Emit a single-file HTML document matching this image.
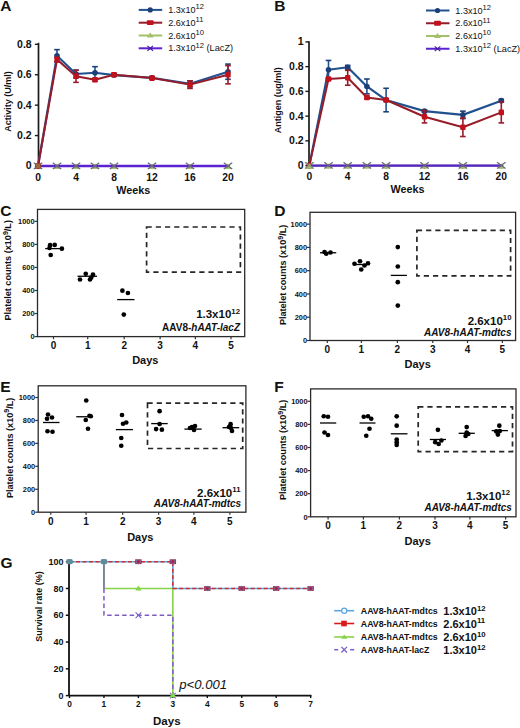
<!DOCTYPE html>
<html><head><meta charset="utf-8"><style>
html,body{margin:0;padding:0;background:#fff;}
svg{display:block;font-family:"Liberation Sans", sans-serif;}
</style></head><body>
<svg width="520" height="728" viewBox="0 0 520 728">
<rect width="520" height="728" fill="#fff"/>
<line x1="38.50" y1="42.80" x2="38.50" y2="166.80" stroke="#1a1a1a" stroke-width="1.7" />
<line x1="34.90" y1="166.00" x2="38.50" y2="166.00" stroke="#1a1a1a" stroke-width="1.4" />
<text x="31.70" y="169.40" font-size="10.5" text-anchor="end" font-weight="bold" font-style="normal" fill="#111" >0</text>
<line x1="34.90" y1="135.58" x2="38.50" y2="135.58" stroke="#1a1a1a" stroke-width="1.4" />
<text x="31.70" y="138.98" font-size="10.5" text-anchor="end" font-weight="bold" font-style="normal" fill="#111" >0.2</text>
<line x1="34.90" y1="105.16" x2="38.50" y2="105.16" stroke="#1a1a1a" stroke-width="1.4" />
<text x="31.70" y="108.56" font-size="10.5" text-anchor="end" font-weight="bold" font-style="normal" fill="#111" >0.4</text>
<line x1="34.90" y1="74.74" x2="38.50" y2="74.74" stroke="#1a1a1a" stroke-width="1.4" />
<text x="31.70" y="78.14" font-size="10.5" text-anchor="end" font-weight="bold" font-style="normal" fill="#111" >0.6</text>
<line x1="34.90" y1="44.32" x2="38.50" y2="44.32" stroke="#1a1a1a" stroke-width="1.4" />
<text x="31.70" y="47.72" font-size="10.5" text-anchor="end" font-weight="bold" font-style="normal" fill="#111" >0.8</text>
<line x1="38.50" y1="166.00" x2="230.00" y2="166.00" stroke="#1a1a1a" stroke-width="1.4" />
<line x1="38.00" y1="166.00" x2="38.00" y2="169.00" stroke="#1a1a1a" stroke-width="1.4" />
<text x="38.00" y="180.70" font-size="10.3" text-anchor="middle" font-weight="bold" font-style="normal" fill="#111" >0</text>
<line x1="76.00" y1="166.00" x2="76.00" y2="169.00" stroke="#1a1a1a" stroke-width="1.4" />
<text x="76.00" y="180.70" font-size="10.3" text-anchor="middle" font-weight="bold" font-style="normal" fill="#111" >4</text>
<line x1="114.00" y1="166.00" x2="114.00" y2="169.00" stroke="#1a1a1a" stroke-width="1.4" />
<text x="114.00" y="180.70" font-size="10.3" text-anchor="middle" font-weight="bold" font-style="normal" fill="#111" >8</text>
<line x1="152.00" y1="166.00" x2="152.00" y2="169.00" stroke="#1a1a1a" stroke-width="1.4" />
<text x="152.00" y="180.70" font-size="10.3" text-anchor="middle" font-weight="bold" font-style="normal" fill="#111" >12</text>
<line x1="190.00" y1="166.00" x2="190.00" y2="169.00" stroke="#1a1a1a" stroke-width="1.4" />
<text x="190.00" y="180.70" font-size="10.3" text-anchor="middle" font-weight="bold" font-style="normal" fill="#111" >16</text>
<line x1="228.00" y1="166.00" x2="228.00" y2="169.00" stroke="#1a1a1a" stroke-width="1.4" />
<text x="228.00" y="180.70" font-size="10.3" text-anchor="middle" font-weight="bold" font-style="normal" fill="#111" >20</text>
<text x="133.30" y="193.80" font-size="10.8" text-anchor="middle" font-weight="bold" font-style="normal" fill="#111" >Weeks</text>
<text transform="translate(10.80,101.50) rotate(-90)" font-size="9" font-weight="bold" text-anchor="middle" fill="#111">Activity (U/ml)</text>
<text x="0.20" y="11.30" font-size="15.5" text-anchor="start" font-weight="bold" font-style="normal" fill="#111" >A</text>
<polyline points="38.00,166.00 57.00,166.00 76.00,166.00 95.00,166.00 114.00,166.00 152.00,166.00 190.00,166.00 228.00,166.00" fill="none" stroke="#a4c06a" stroke-width="2.0" stroke-linejoin="round" />
<polygon points="38.00,163.60 41.20,169.04 34.80,169.04" fill="#a4c06a"/>
<polygon points="57.00,163.60 60.20,169.04 53.80,169.04" fill="#a4c06a"/>
<polygon points="76.00,163.60 79.20,169.04 72.80,169.04" fill="#a4c06a"/>
<polygon points="95.00,163.60 98.20,169.04 91.80,169.04" fill="#a4c06a"/>
<polygon points="114.00,163.60 117.20,169.04 110.80,169.04" fill="#a4c06a"/>
<polygon points="152.00,163.60 155.20,169.04 148.80,169.04" fill="#a4c06a"/>
<polygon points="190.00,163.60 193.20,169.04 186.80,169.04" fill="#a4c06a"/>
<polygon points="228.00,163.60 231.20,169.04 224.80,169.04" fill="#a4c06a"/>
<polyline points="38.00,166.00 57.00,166.00 76.00,166.00 95.00,166.00 114.00,166.00 152.00,166.00 190.00,166.00 228.00,166.00" fill="none" stroke="#5a22d0" stroke-width="2.4" stroke-linejoin="round" />
<line x1="33.80" y1="162.70" x2="42.20" y2="168.90" stroke="#6b6b78" stroke-width="1.3" />
<line x1="33.80" y1="168.90" x2="42.20" y2="162.70" stroke="#6b6b78" stroke-width="1.3" />
<line x1="52.80" y1="162.70" x2="61.20" y2="168.90" stroke="#6b6b78" stroke-width="1.3" />
<line x1="52.80" y1="168.90" x2="61.20" y2="162.70" stroke="#6b6b78" stroke-width="1.3" />
<line x1="71.80" y1="162.70" x2="80.20" y2="168.90" stroke="#6b6b78" stroke-width="1.3" />
<line x1="71.80" y1="168.90" x2="80.20" y2="162.70" stroke="#6b6b78" stroke-width="1.3" />
<line x1="90.80" y1="162.70" x2="99.20" y2="168.90" stroke="#6b6b78" stroke-width="1.3" />
<line x1="90.80" y1="168.90" x2="99.20" y2="162.70" stroke="#6b6b78" stroke-width="1.3" />
<line x1="109.80" y1="162.70" x2="118.20" y2="168.90" stroke="#6b6b78" stroke-width="1.3" />
<line x1="109.80" y1="168.90" x2="118.20" y2="162.70" stroke="#6b6b78" stroke-width="1.3" />
<line x1="147.80" y1="162.70" x2="156.20" y2="168.90" stroke="#6b6b78" stroke-width="1.3" />
<line x1="147.80" y1="168.90" x2="156.20" y2="162.70" stroke="#6b6b78" stroke-width="1.3" />
<line x1="185.80" y1="162.70" x2="194.20" y2="168.90" stroke="#6b6b78" stroke-width="1.3" />
<line x1="185.80" y1="168.90" x2="194.20" y2="162.70" stroke="#6b6b78" stroke-width="1.3" />
<line x1="223.80" y1="162.70" x2="232.20" y2="168.90" stroke="#6b6b78" stroke-width="1.3" />
<line x1="223.80" y1="168.90" x2="232.20" y2="162.70" stroke="#6b6b78" stroke-width="1.3" />
<line x1="57.00" y1="61.81" x2="57.00" y2="49.64" stroke="#22518f" stroke-width="1.6" />
<line x1="54.20" y1="49.64" x2="59.80" y2="49.64" stroke="#1d3f78" stroke-width="1.6" />
<line x1="54.20" y1="61.81" x2="59.80" y2="61.81" stroke="#1d3f78" stroke-width="1.6" />
<line x1="76.00" y1="77.78" x2="76.00" y2="70.18" stroke="#22518f" stroke-width="1.6" />
<line x1="73.20" y1="70.18" x2="78.80" y2="70.18" stroke="#1d3f78" stroke-width="1.6" />
<line x1="73.20" y1="77.78" x2="78.80" y2="77.78" stroke="#1d3f78" stroke-width="1.6" />
<line x1="95.00" y1="78.85" x2="95.00" y2="66.68" stroke="#22518f" stroke-width="1.6" />
<line x1="92.20" y1="66.68" x2="97.80" y2="66.68" stroke="#1d3f78" stroke-width="1.6" />
<line x1="92.20" y1="78.85" x2="97.80" y2="78.85" stroke="#1d3f78" stroke-width="1.6" />
<line x1="114.00" y1="76.26" x2="114.00" y2="73.83" stroke="#22518f" stroke-width="1.6" />
<line x1="111.20" y1="73.83" x2="116.80" y2="73.83" stroke="#1d3f78" stroke-width="1.6" />
<line x1="111.20" y1="76.26" x2="116.80" y2="76.26" stroke="#1d3f78" stroke-width="1.6" />
<line x1="152.00" y1="79.00" x2="152.00" y2="76.57" stroke="#22518f" stroke-width="1.6" />
<line x1="149.20" y1="76.57" x2="154.80" y2="76.57" stroke="#1d3f78" stroke-width="1.6" />
<line x1="149.20" y1="79.00" x2="154.80" y2="79.00" stroke="#1d3f78" stroke-width="1.6" />
<line x1="190.00" y1="86.91" x2="190.00" y2="80.82" stroke="#22518f" stroke-width="1.6" />
<line x1="187.20" y1="80.82" x2="192.80" y2="80.82" stroke="#1d3f78" stroke-width="1.6" />
<line x1="187.20" y1="86.91" x2="192.80" y2="86.91" stroke="#1d3f78" stroke-width="1.6" />
<line x1="228.00" y1="79.30" x2="228.00" y2="64.09" stroke="#22518f" stroke-width="1.6" />
<line x1="225.20" y1="64.09" x2="230.80" y2="64.09" stroke="#1d3f78" stroke-width="1.6" />
<line x1="225.20" y1="79.30" x2="230.80" y2="79.30" stroke="#1d3f78" stroke-width="1.6" />
<polyline points="38.00,166.00 57.00,55.73 76.00,73.98 95.00,72.76 114.00,75.04 152.00,77.78 190.00,83.87 228.00,71.70" fill="none" stroke="#22518f" stroke-width="2.2" stroke-linejoin="round" />
<circle cx="38.00" cy="166.00" r="2.8" fill="#1d3f78" stroke="none" stroke-width="0"/>
<circle cx="57.00" cy="55.73" r="2.8" fill="#1d3f78" stroke="none" stroke-width="0"/>
<circle cx="76.00" cy="73.98" r="2.8" fill="#1d3f78" stroke="none" stroke-width="0"/>
<circle cx="95.00" cy="72.76" r="2.8" fill="#1d3f78" stroke="none" stroke-width="0"/>
<circle cx="114.00" cy="75.04" r="2.8" fill="#1d3f78" stroke="none" stroke-width="0"/>
<circle cx="152.00" cy="77.78" r="2.8" fill="#1d3f78" stroke="none" stroke-width="0"/>
<circle cx="190.00" cy="83.87" r="2.8" fill="#1d3f78" stroke="none" stroke-width="0"/>
<circle cx="228.00" cy="71.70" r="2.8" fill="#1d3f78" stroke="none" stroke-width="0"/>
<line x1="57.00" y1="61.81" x2="57.00" y2="57.25" stroke="#961c2a" stroke-width="1.6" />
<line x1="54.20" y1="57.25" x2="59.80" y2="57.25" stroke="#961c2a" stroke-width="1.6" />
<line x1="54.20" y1="61.81" x2="59.80" y2="61.81" stroke="#961c2a" stroke-width="1.6" />
<line x1="76.00" y1="82.35" x2="76.00" y2="70.18" stroke="#961c2a" stroke-width="1.6" />
<line x1="73.20" y1="70.18" x2="78.80" y2="70.18" stroke="#961c2a" stroke-width="1.6" />
<line x1="73.20" y1="82.35" x2="78.80" y2="82.35" stroke="#961c2a" stroke-width="1.6" />
<line x1="95.00" y1="81.28" x2="95.00" y2="78.24" stroke="#961c2a" stroke-width="1.6" />
<line x1="92.20" y1="78.24" x2="97.80" y2="78.24" stroke="#961c2a" stroke-width="1.6" />
<line x1="92.20" y1="81.28" x2="97.80" y2="81.28" stroke="#961c2a" stroke-width="1.6" />
<line x1="114.00" y1="76.26" x2="114.00" y2="73.22" stroke="#961c2a" stroke-width="1.6" />
<line x1="111.20" y1="73.22" x2="116.80" y2="73.22" stroke="#961c2a" stroke-width="1.6" />
<line x1="111.20" y1="76.26" x2="116.80" y2="76.26" stroke="#961c2a" stroke-width="1.6" />
<line x1="152.00" y1="79.30" x2="152.00" y2="76.87" stroke="#961c2a" stroke-width="1.6" />
<line x1="149.20" y1="76.87" x2="154.80" y2="76.87" stroke="#961c2a" stroke-width="1.6" />
<line x1="149.20" y1="79.30" x2="154.80" y2="79.30" stroke="#961c2a" stroke-width="1.6" />
<line x1="190.00" y1="88.43" x2="190.00" y2="80.82" stroke="#961c2a" stroke-width="1.6" />
<line x1="187.20" y1="80.82" x2="192.80" y2="80.82" stroke="#961c2a" stroke-width="1.6" />
<line x1="187.20" y1="88.43" x2="192.80" y2="88.43" stroke="#961c2a" stroke-width="1.6" />
<line x1="228.00" y1="83.87" x2="228.00" y2="65.61" stroke="#961c2a" stroke-width="1.6" />
<line x1="225.20" y1="65.61" x2="230.80" y2="65.61" stroke="#961c2a" stroke-width="1.6" />
<line x1="225.20" y1="83.87" x2="230.80" y2="83.87" stroke="#961c2a" stroke-width="1.6" />
<polyline points="38.00,166.00 57.00,59.53 76.00,76.26 95.00,79.76 114.00,74.74 152.00,78.09 190.00,84.63 228.00,74.74" fill="none" stroke="#961c2a" stroke-width="2.0" stroke-linejoin="round" />
<rect x="35.30" y="163.20" width="5.40" height="5.60" fill="#c0121c" stroke="none" stroke-width="0" rx="1"/>
<rect x="54.30" y="56.73" width="5.40" height="5.60" fill="#c0121c" stroke="none" stroke-width="0" rx="1"/>
<rect x="73.30" y="73.46" width="5.40" height="5.60" fill="#c0121c" stroke="none" stroke-width="0" rx="1"/>
<rect x="92.30" y="76.96" width="5.40" height="5.60" fill="#c0121c" stroke="none" stroke-width="0" rx="1"/>
<rect x="111.30" y="71.94" width="5.40" height="5.60" fill="#c0121c" stroke="none" stroke-width="0" rx="1"/>
<rect x="149.30" y="75.29" width="5.40" height="5.60" fill="#c0121c" stroke="none" stroke-width="0" rx="1"/>
<rect x="187.30" y="81.83" width="5.40" height="5.60" fill="#c0121c" stroke="none" stroke-width="0" rx="1"/>
<rect x="225.30" y="71.94" width="5.40" height="5.60" fill="#c0121c" stroke="none" stroke-width="0" rx="1"/>
<rect x="35.50" y="163.50" width="5.00" height="5.00" fill="#9a6a40" stroke="none" stroke-width="0" />
<line x1="138.70" y1="9.90" x2="162.20" y2="9.90" stroke="#22518f" stroke-width="2" />
<circle cx="150.20" cy="9.90" r="2.6" fill="#1d3f78" stroke="none" stroke-width="0"/>
<text x="168.20" y="12.90" font-size="9.1" fill="#111">1.3x10<tspan font-size="7.6" dy="-3.7">12</tspan><tspan font-size="9.2" dy="3.7"></tspan></text>
<line x1="138.70" y1="22.70" x2="162.20" y2="22.70" stroke="#961c2a" stroke-width="2" />
<rect x="146.80" y="20.30" width="6.80" height="4.80" fill="#c0121c" stroke="none" stroke-width="0" rx="1"/>
<text x="168.20" y="25.70" font-size="9.1" fill="#111">2.6x10<tspan font-size="7.6" dy="-3.7">11</tspan><tspan font-size="9.2" dy="3.7"></tspan></text>
<line x1="138.70" y1="35.50" x2="162.20" y2="35.50" stroke="#a4c06a" stroke-width="2" />
<polygon points="150.20,32.50 153.60,37.60 146.80,37.60" fill="#a4c06a"/>
<text x="168.20" y="38.50" font-size="9.1" fill="#111">2.6x10<tspan font-size="7.6" dy="-3.7">10</tspan><tspan font-size="9.2" dy="3.7"></tspan></text>
<line x1="138.70" y1="48.30" x2="162.20" y2="48.30" stroke="#5a22d0" stroke-width="2" />
<line x1="147.40" y1="45.90" x2="153.00" y2="50.70" stroke="#4a1aa0" stroke-width="1.2" />
<line x1="147.40" y1="50.70" x2="153.00" y2="45.90" stroke="#4a1aa0" stroke-width="1.2" />
<text x="168.20" y="51.30" font-size="9.1" fill="#111">1.3x10<tspan font-size="7.6" dy="-3.7">12</tspan><tspan font-size="9.2" dy="3.7"> (LacZ)</tspan></text>
<line x1="309.00" y1="41.30" x2="309.00" y2="166.40" stroke="#1a1a1a" stroke-width="1.7" />
<line x1="305.40" y1="165.60" x2="309.00" y2="165.60" stroke="#1a1a1a" stroke-width="1.4" />
<text x="303.70" y="169.00" font-size="10.5" text-anchor="end" font-weight="bold" font-style="normal" fill="#111" >0</text>
<line x1="305.40" y1="140.86" x2="309.00" y2="140.86" stroke="#1a1a1a" stroke-width="1.4" />
<text x="303.70" y="144.26" font-size="10.5" text-anchor="end" font-weight="bold" font-style="normal" fill="#111" >0.2</text>
<line x1="305.40" y1="116.12" x2="309.00" y2="116.12" stroke="#1a1a1a" stroke-width="1.4" />
<text x="303.70" y="119.52" font-size="10.5" text-anchor="end" font-weight="bold" font-style="normal" fill="#111" >0.4</text>
<line x1="305.40" y1="91.38" x2="309.00" y2="91.38" stroke="#1a1a1a" stroke-width="1.4" />
<text x="303.70" y="94.78" font-size="10.5" text-anchor="end" font-weight="bold" font-style="normal" fill="#111" >0.6</text>
<line x1="305.40" y1="66.64" x2="309.00" y2="66.64" stroke="#1a1a1a" stroke-width="1.4" />
<text x="303.70" y="70.04" font-size="10.5" text-anchor="end" font-weight="bold" font-style="normal" fill="#111" >0.8</text>
<line x1="305.40" y1="41.90" x2="309.00" y2="41.90" stroke="#1a1a1a" stroke-width="1.4" />
<text x="303.70" y="45.30" font-size="10.5" text-anchor="end" font-weight="bold" font-style="normal" fill="#111" >1</text>
<line x1="309.00" y1="165.60" x2="503.30" y2="165.60" stroke="#1a1a1a" stroke-width="1.4" />
<line x1="309.30" y1="165.60" x2="309.30" y2="168.60" stroke="#1a1a1a" stroke-width="1.4" />
<text x="309.30" y="180.30" font-size="10.3" text-anchor="middle" font-weight="bold" font-style="normal" fill="#111" >0</text>
<line x1="347.70" y1="165.60" x2="347.70" y2="168.60" stroke="#1a1a1a" stroke-width="1.4" />
<text x="347.70" y="180.30" font-size="10.3" text-anchor="middle" font-weight="bold" font-style="normal" fill="#111" >4</text>
<line x1="386.10" y1="165.60" x2="386.10" y2="168.60" stroke="#1a1a1a" stroke-width="1.4" />
<text x="386.10" y="180.30" font-size="10.3" text-anchor="middle" font-weight="bold" font-style="normal" fill="#111" >8</text>
<line x1="424.50" y1="165.60" x2="424.50" y2="168.60" stroke="#1a1a1a" stroke-width="1.4" />
<text x="424.50" y="180.30" font-size="10.3" text-anchor="middle" font-weight="bold" font-style="normal" fill="#111" >12</text>
<line x1="462.90" y1="165.60" x2="462.90" y2="168.60" stroke="#1a1a1a" stroke-width="1.4" />
<text x="462.90" y="180.30" font-size="10.3" text-anchor="middle" font-weight="bold" font-style="normal" fill="#111" >16</text>
<line x1="501.30" y1="165.60" x2="501.30" y2="168.60" stroke="#1a1a1a" stroke-width="1.4" />
<text x="501.30" y="180.30" font-size="10.3" text-anchor="middle" font-weight="bold" font-style="normal" fill="#111" >20</text>
<text x="407.50" y="192.50" font-size="10.8" text-anchor="middle" font-weight="bold" font-style="normal" fill="#111" >Weeks</text>
<text transform="translate(281.00,100.30) rotate(-90)" font-size="9" font-weight="bold" text-anchor="middle" fill="#111">Antigen (ug/ml)</text>
<text x="274.30" y="11.30" font-size="15.5" text-anchor="start" font-weight="bold" font-style="normal" fill="#111" >B</text>
<polyline points="309.30,165.60 328.50,165.60 347.70,165.60 366.90,165.60 386.10,165.60 424.50,165.60 462.90,165.60 501.30,165.60" fill="none" stroke="#a4c06a" stroke-width="2.0" stroke-linejoin="round" />
<polygon points="309.30,163.20 312.50,168.64 306.10,168.64" fill="#a4c06a"/>
<polygon points="328.50,163.20 331.70,168.64 325.30,168.64" fill="#a4c06a"/>
<polygon points="347.70,163.20 350.90,168.64 344.50,168.64" fill="#a4c06a"/>
<polygon points="366.90,163.20 370.10,168.64 363.70,168.64" fill="#a4c06a"/>
<polygon points="386.10,163.20 389.30,168.64 382.90,168.64" fill="#a4c06a"/>
<polygon points="424.50,163.20 427.70,168.64 421.30,168.64" fill="#a4c06a"/>
<polygon points="462.90,163.20 466.10,168.64 459.70,168.64" fill="#a4c06a"/>
<polygon points="501.30,163.20 504.50,168.64 498.10,168.64" fill="#a4c06a"/>
<polyline points="309.30,165.60 328.50,165.60 347.70,165.60 366.90,165.60 386.10,165.60 424.50,165.60 462.90,165.60 501.30,165.60" fill="none" stroke="#5a22d0" stroke-width="2.4" stroke-linejoin="round" />
<line x1="305.10" y1="162.30" x2="313.50" y2="168.50" stroke="#6b6b78" stroke-width="1.3" />
<line x1="305.10" y1="168.50" x2="313.50" y2="162.30" stroke="#6b6b78" stroke-width="1.3" />
<line x1="324.30" y1="162.30" x2="332.70" y2="168.50" stroke="#6b6b78" stroke-width="1.3" />
<line x1="324.30" y1="168.50" x2="332.70" y2="162.30" stroke="#6b6b78" stroke-width="1.3" />
<line x1="343.50" y1="162.30" x2="351.90" y2="168.50" stroke="#6b6b78" stroke-width="1.3" />
<line x1="343.50" y1="168.50" x2="351.90" y2="162.30" stroke="#6b6b78" stroke-width="1.3" />
<line x1="362.70" y1="162.30" x2="371.10" y2="168.50" stroke="#6b6b78" stroke-width="1.3" />
<line x1="362.70" y1="168.50" x2="371.10" y2="162.30" stroke="#6b6b78" stroke-width="1.3" />
<line x1="381.90" y1="162.30" x2="390.30" y2="168.50" stroke="#6b6b78" stroke-width="1.3" />
<line x1="381.90" y1="168.50" x2="390.30" y2="162.30" stroke="#6b6b78" stroke-width="1.3" />
<line x1="420.30" y1="162.30" x2="428.70" y2="168.50" stroke="#6b6b78" stroke-width="1.3" />
<line x1="420.30" y1="168.50" x2="428.70" y2="162.30" stroke="#6b6b78" stroke-width="1.3" />
<line x1="458.70" y1="162.30" x2="467.10" y2="168.50" stroke="#6b6b78" stroke-width="1.3" />
<line x1="458.70" y1="168.50" x2="467.10" y2="162.30" stroke="#6b6b78" stroke-width="1.3" />
<line x1="497.10" y1="162.30" x2="505.50" y2="168.50" stroke="#6b6b78" stroke-width="1.3" />
<line x1="497.10" y1="168.50" x2="505.50" y2="162.30" stroke="#6b6b78" stroke-width="1.3" />
<line x1="328.50" y1="79.01" x2="328.50" y2="60.45" stroke="#22518f" stroke-width="1.6" />
<line x1="325.70" y1="60.45" x2="331.30" y2="60.45" stroke="#1d3f78" stroke-width="1.6" />
<line x1="325.70" y1="79.01" x2="331.30" y2="79.01" stroke="#1d3f78" stroke-width="1.6" />
<line x1="347.70" y1="69.11" x2="347.70" y2="65.40" stroke="#22518f" stroke-width="1.6" />
<line x1="344.90" y1="65.40" x2="350.50" y2="65.40" stroke="#1d3f78" stroke-width="1.6" />
<line x1="344.90" y1="69.11" x2="350.50" y2="69.11" stroke="#1d3f78" stroke-width="1.6" />
<line x1="366.90" y1="93.85" x2="366.90" y2="79.01" stroke="#22518f" stroke-width="1.6" />
<line x1="364.10" y1="79.01" x2="369.70" y2="79.01" stroke="#1d3f78" stroke-width="1.6" />
<line x1="364.10" y1="93.85" x2="369.70" y2="93.85" stroke="#1d3f78" stroke-width="1.6" />
<line x1="386.10" y1="111.79" x2="386.10" y2="88.29" stroke="#22518f" stroke-width="1.6" />
<line x1="383.30" y1="88.29" x2="388.90" y2="88.29" stroke="#1d3f78" stroke-width="1.6" />
<line x1="383.30" y1="111.79" x2="388.90" y2="111.79" stroke="#1d3f78" stroke-width="1.6" />
<line x1="424.50" y1="112.41" x2="424.50" y2="109.94" stroke="#22518f" stroke-width="1.6" />
<line x1="421.70" y1="109.94" x2="427.30" y2="109.94" stroke="#1d3f78" stroke-width="1.6" />
<line x1="421.70" y1="112.41" x2="427.30" y2="112.41" stroke="#1d3f78" stroke-width="1.6" />
<line x1="462.90" y1="118.59" x2="462.90" y2="111.17" stroke="#22518f" stroke-width="1.6" />
<line x1="460.10" y1="111.17" x2="465.70" y2="111.17" stroke="#1d3f78" stroke-width="1.6" />
<line x1="460.10" y1="118.59" x2="465.70" y2="118.59" stroke="#1d3f78" stroke-width="1.6" />
<line x1="501.30" y1="101.89" x2="501.30" y2="99.42" stroke="#22518f" stroke-width="1.6" />
<line x1="498.50" y1="99.42" x2="504.10" y2="99.42" stroke="#1d3f78" stroke-width="1.6" />
<line x1="498.50" y1="101.89" x2="504.10" y2="101.89" stroke="#1d3f78" stroke-width="1.6" />
<polyline points="309.30,165.60 328.50,69.73 347.70,67.26 366.90,86.43 386.10,100.04 424.50,111.17 462.90,114.88 501.30,100.66" fill="none" stroke="#22518f" stroke-width="2.2" stroke-linejoin="round" />
<circle cx="309.30" cy="165.60" r="2.8" fill="#1d3f78" stroke="none" stroke-width="0"/>
<circle cx="328.50" cy="69.73" r="2.8" fill="#1d3f78" stroke="none" stroke-width="0"/>
<circle cx="347.70" cy="67.26" r="2.8" fill="#1d3f78" stroke="none" stroke-width="0"/>
<circle cx="366.90" cy="86.43" r="2.8" fill="#1d3f78" stroke="none" stroke-width="0"/>
<circle cx="386.10" cy="100.04" r="2.8" fill="#1d3f78" stroke="none" stroke-width="0"/>
<circle cx="424.50" cy="111.17" r="2.8" fill="#1d3f78" stroke="none" stroke-width="0"/>
<circle cx="462.90" cy="114.88" r="2.8" fill="#1d3f78" stroke="none" stroke-width="0"/>
<circle cx="501.30" cy="100.66" r="2.8" fill="#1d3f78" stroke="none" stroke-width="0"/>
<line x1="328.50" y1="80.25" x2="328.50" y2="77.77" stroke="#961c2a" stroke-width="1.6" />
<line x1="325.70" y1="77.77" x2="331.30" y2="77.77" stroke="#961c2a" stroke-width="1.6" />
<line x1="325.70" y1="80.25" x2="331.30" y2="80.25" stroke="#961c2a" stroke-width="1.6" />
<line x1="347.70" y1="85.20" x2="347.70" y2="70.35" stroke="#961c2a" stroke-width="1.6" />
<line x1="344.90" y1="70.35" x2="350.50" y2="70.35" stroke="#961c2a" stroke-width="1.6" />
<line x1="344.90" y1="85.20" x2="350.50" y2="85.20" stroke="#961c2a" stroke-width="1.6" />
<line x1="366.90" y1="98.80" x2="366.90" y2="96.33" stroke="#961c2a" stroke-width="1.6" />
<line x1="364.10" y1="96.33" x2="369.70" y2="96.33" stroke="#961c2a" stroke-width="1.6" />
<line x1="364.10" y1="98.80" x2="369.70" y2="98.80" stroke="#961c2a" stroke-width="1.6" />
<line x1="386.10" y1="101.28" x2="386.10" y2="98.80" stroke="#961c2a" stroke-width="1.6" />
<line x1="383.30" y1="98.80" x2="388.90" y2="98.80" stroke="#961c2a" stroke-width="1.6" />
<line x1="383.30" y1="101.28" x2="388.90" y2="101.28" stroke="#961c2a" stroke-width="1.6" />
<line x1="424.50" y1="122.92" x2="424.50" y2="110.55" stroke="#961c2a" stroke-width="1.6" />
<line x1="421.70" y1="110.55" x2="427.30" y2="110.55" stroke="#961c2a" stroke-width="1.6" />
<line x1="421.70" y1="122.92" x2="427.30" y2="122.92" stroke="#961c2a" stroke-width="1.6" />
<line x1="462.90" y1="136.53" x2="462.90" y2="117.98" stroke="#961c2a" stroke-width="1.6" />
<line x1="460.10" y1="117.98" x2="465.70" y2="117.98" stroke="#961c2a" stroke-width="1.6" />
<line x1="460.10" y1="136.53" x2="465.70" y2="136.53" stroke="#961c2a" stroke-width="1.6" />
<line x1="501.30" y1="122.92" x2="501.30" y2="101.89" stroke="#961c2a" stroke-width="1.6" />
<line x1="498.50" y1="101.89" x2="504.10" y2="101.89" stroke="#961c2a" stroke-width="1.6" />
<line x1="498.50" y1="122.92" x2="504.10" y2="122.92" stroke="#961c2a" stroke-width="1.6" />
<polyline points="309.30,165.60 328.50,79.01 347.70,77.77 366.90,97.56 386.10,100.04 424.50,116.74 462.90,127.25 501.30,112.41" fill="none" stroke="#961c2a" stroke-width="2.0" stroke-linejoin="round" />
<rect x="306.60" y="162.80" width="5.40" height="5.60" fill="#c0121c" stroke="none" stroke-width="0" rx="1"/>
<rect x="325.80" y="76.21" width="5.40" height="5.60" fill="#c0121c" stroke="none" stroke-width="0" rx="1"/>
<rect x="345.00" y="74.97" width="5.40" height="5.60" fill="#c0121c" stroke="none" stroke-width="0" rx="1"/>
<rect x="364.20" y="94.76" width="5.40" height="5.60" fill="#c0121c" stroke="none" stroke-width="0" rx="1"/>
<rect x="383.40" y="97.24" width="5.40" height="5.60" fill="#c0121c" stroke="none" stroke-width="0" rx="1"/>
<rect x="421.80" y="113.94" width="5.40" height="5.60" fill="#c0121c" stroke="none" stroke-width="0" rx="1"/>
<rect x="460.20" y="124.45" width="5.40" height="5.60" fill="#c0121c" stroke="none" stroke-width="0" rx="1"/>
<rect x="498.60" y="109.61" width="5.40" height="5.60" fill="#c0121c" stroke="none" stroke-width="0" rx="1"/>
<polygon points="309.30,163.20 312.50,168.64 306.10,168.64" fill="#a4c06a"/>
<line x1="305.10" y1="162.30" x2="313.50" y2="168.50" stroke="#8a9a70" stroke-width="1.3" />
<line x1="305.10" y1="168.50" x2="313.50" y2="162.30" stroke="#8a9a70" stroke-width="1.3" />
<line x1="426.00" y1="10.50" x2="449.50" y2="10.50" stroke="#22518f" stroke-width="2" />
<circle cx="437.50" cy="10.50" r="2.6" fill="#1d3f78" stroke="none" stroke-width="0"/>
<text x="455.30" y="13.50" font-size="9.1" fill="#111">1.3x10<tspan font-size="7.6" dy="-3.7">12</tspan><tspan font-size="9.2" dy="3.7"></tspan></text>
<line x1="426.00" y1="23.25" x2="449.50" y2="23.25" stroke="#961c2a" stroke-width="2" />
<rect x="434.10" y="20.85" width="6.80" height="4.80" fill="#c0121c" stroke="none" stroke-width="0" rx="1"/>
<text x="455.30" y="26.25" font-size="9.1" fill="#111">2.6x10<tspan font-size="7.6" dy="-3.7">11</tspan><tspan font-size="9.2" dy="3.7"></tspan></text>
<line x1="426.00" y1="36.00" x2="449.50" y2="36.00" stroke="#a4c06a" stroke-width="2" />
<polygon points="437.50,33.00 440.90,38.10 434.10,38.10" fill="#a4c06a"/>
<text x="455.30" y="39.00" font-size="9.1" fill="#111">2.6x10<tspan font-size="7.6" dy="-3.7">10</tspan><tspan font-size="9.2" dy="3.7"></tspan></text>
<line x1="426.00" y1="48.75" x2="449.50" y2="48.75" stroke="#5a22d0" stroke-width="2" />
<line x1="434.70" y1="46.35" x2="440.30" y2="51.15" stroke="#4a1aa0" stroke-width="1.2" />
<line x1="434.70" y1="51.15" x2="440.30" y2="46.35" stroke="#4a1aa0" stroke-width="1.2" />
<text x="455.30" y="51.75" font-size="9.1" fill="#111">1.3x10<tspan font-size="7.6" dy="-3.7">12</tspan><tspan font-size="9.2" dy="3.7"> (LacZ)</tspan></text>
<rect x="37.50" y="209.40" width="207.20" height="127.20" fill="none" stroke="#2a2a2a" stroke-width="1.3"/>
<line x1="34.50" y1="336.60" x2="37.50" y2="336.60" stroke="#333" stroke-width="1.2" />
<text x="34.50" y="339.30" font-size="7.4" text-anchor="end" font-weight="bold" font-style="normal" fill="#111" >0</text>
<line x1="34.50" y1="313.55" x2="37.50" y2="313.55" stroke="#333" stroke-width="1.2" />
<text x="34.50" y="316.25" font-size="7.4" text-anchor="end" font-weight="bold" font-style="normal" fill="#111" >200</text>
<line x1="34.50" y1="290.50" x2="37.50" y2="290.50" stroke="#333" stroke-width="1.2" />
<text x="34.50" y="293.20" font-size="7.4" text-anchor="end" font-weight="bold" font-style="normal" fill="#111" >400</text>
<line x1="34.50" y1="267.45" x2="37.50" y2="267.45" stroke="#333" stroke-width="1.2" />
<text x="34.50" y="270.15" font-size="7.4" text-anchor="end" font-weight="bold" font-style="normal" fill="#111" >600</text>
<line x1="34.50" y1="244.40" x2="37.50" y2="244.40" stroke="#333" stroke-width="1.2" />
<text x="34.50" y="247.10" font-size="7.4" text-anchor="end" font-weight="bold" font-style="normal" fill="#111" >800</text>
<line x1="34.50" y1="221.35" x2="37.50" y2="221.35" stroke="#333" stroke-width="1.2" />
<text x="34.50" y="224.05" font-size="7.4" text-anchor="end" font-weight="bold" font-style="normal" fill="#111" >1000</text>
<line x1="53.50" y1="336.60" x2="53.50" y2="339.20" stroke="#333" stroke-width="1.2" />
<text x="53.50" y="349.20" font-size="10" text-anchor="middle" font-weight="bold" font-style="normal" fill="#111" >0</text>
<line x1="87.70" y1="336.60" x2="87.70" y2="339.20" stroke="#333" stroke-width="1.2" />
<text x="87.70" y="349.20" font-size="10" text-anchor="middle" font-weight="bold" font-style="normal" fill="#111" >1</text>
<line x1="124.20" y1="336.60" x2="124.20" y2="339.20" stroke="#333" stroke-width="1.2" />
<text x="124.20" y="349.20" font-size="10" text-anchor="middle" font-weight="bold" font-style="normal" fill="#111" >2</text>
<line x1="160.10" y1="336.60" x2="160.10" y2="339.20" stroke="#333" stroke-width="1.2" />
<text x="160.10" y="349.20" font-size="10" text-anchor="middle" font-weight="bold" font-style="normal" fill="#111" >3</text>
<line x1="195.40" y1="336.60" x2="195.40" y2="339.20" stroke="#333" stroke-width="1.2" />
<text x="195.40" y="349.20" font-size="10" text-anchor="middle" font-weight="bold" font-style="normal" fill="#111" >4</text>
<line x1="231.00" y1="336.60" x2="231.00" y2="339.20" stroke="#333" stroke-width="1.2" />
<text x="231.00" y="349.20" font-size="10" text-anchor="middle" font-weight="bold" font-style="normal" fill="#111" >5</text>
<text x="145.30" y="363.50" font-size="11" text-anchor="middle" font-weight="bold" font-style="normal" fill="#111" >Days</text>
<rect x="146.60" y="227.00" width="93.80" height="45.10" fill="none" stroke="#262626" stroke-width="1.7" stroke-dasharray="5.2,4"/>
<text x="0.30" y="215.60" font-size="15.5" text-anchor="start" font-weight="bold" font-style="normal" fill="#111" >C</text>
<text transform="translate(11.20,270.30) rotate(-90)" font-size="9.1" font-weight="bold" text-anchor="middle" fill="#111">Platelet counts (x10<tspan font-size="7" dy="-3.3">9</tspan><tspan dy="3.3">/L)</tspan></text>
<text x="240.00" y="318.40" font-size="11.5" font-weight="bold" text-anchor="end" fill="#111">1.3x10<tspan font-size="7.8" dy="-4.6">12</tspan></text>
<text x="240.00" y="331.00" font-size="10" font-weight="bold" text-anchor="end" fill="#111">AAV8-<tspan font-style="italic">hAAT-lacZ</tspan></text>
<circle cx="50.10" cy="245.20" r="2.35" fill="#000" stroke="none" stroke-width="0"/>
<circle cx="54.70" cy="244.90" r="2.35" fill="#000" stroke="none" stroke-width="0"/>
<circle cx="49.50" cy="248.00" r="2.35" fill="#000" stroke="none" stroke-width="0"/>
<circle cx="61.90" cy="248.70" r="2.35" fill="#000" stroke="none" stroke-width="0"/>
<circle cx="50.70" cy="255.00" r="2.35" fill="#000" stroke="none" stroke-width="0"/>
<circle cx="80.00" cy="279.50" r="2.35" fill="#000" stroke="none" stroke-width="0"/>
<circle cx="85.75" cy="273.75" r="2.35" fill="#000" stroke="none" stroke-width="0"/>
<circle cx="90.00" cy="279.50" r="2.35" fill="#000" stroke="none" stroke-width="0"/>
<circle cx="93.00" cy="274.50" r="2.35" fill="#000" stroke="none" stroke-width="0"/>
<circle cx="91.25" cy="277.50" r="2.35" fill="#000" stroke="none" stroke-width="0"/>
<circle cx="122.40" cy="290.70" r="2.35" fill="#000" stroke="none" stroke-width="0"/>
<circle cx="127.90" cy="293.00" r="2.35" fill="#000" stroke="none" stroke-width="0"/>
<circle cx="123.80" cy="314.60" r="2.35" fill="#000" stroke="none" stroke-width="0"/>
<line x1="45.20" y1="248.60" x2="63.10" y2="248.60" stroke="#000" stroke-width="1.3" />
<line x1="77.50" y1="276.25" x2="97.00" y2="276.25" stroke="#000" stroke-width="1.3" />
<line x1="117.20" y1="299.60" x2="134.50" y2="299.60" stroke="#000" stroke-width="1.3" />
<rect x="310.00" y="212.30" width="205.60" height="128.20" fill="none" stroke="#2a2a2a" stroke-width="1.3"/>
<line x1="307.00" y1="340.50" x2="310.00" y2="340.50" stroke="#333" stroke-width="1.2" />
<text x="307.00" y="343.20" font-size="7.4" text-anchor="end" font-weight="bold" font-style="normal" fill="#111" >0</text>
<line x1="307.00" y1="317.23" x2="310.00" y2="317.23" stroke="#333" stroke-width="1.2" />
<text x="307.00" y="319.93" font-size="7.4" text-anchor="end" font-weight="bold" font-style="normal" fill="#111" >200</text>
<line x1="307.00" y1="293.96" x2="310.00" y2="293.96" stroke="#333" stroke-width="1.2" />
<text x="307.00" y="296.66" font-size="7.4" text-anchor="end" font-weight="bold" font-style="normal" fill="#111" >400</text>
<line x1="307.00" y1="270.69" x2="310.00" y2="270.69" stroke="#333" stroke-width="1.2" />
<text x="307.00" y="273.39" font-size="7.4" text-anchor="end" font-weight="bold" font-style="normal" fill="#111" >600</text>
<line x1="307.00" y1="247.42" x2="310.00" y2="247.42" stroke="#333" stroke-width="1.2" />
<text x="307.00" y="250.12" font-size="7.4" text-anchor="end" font-weight="bold" font-style="normal" fill="#111" >800</text>
<line x1="307.00" y1="224.15" x2="310.00" y2="224.15" stroke="#333" stroke-width="1.2" />
<text x="307.00" y="226.85" font-size="7.4" text-anchor="end" font-weight="bold" font-style="normal" fill="#111" >1000</text>
<line x1="327.30" y1="340.50" x2="327.30" y2="343.10" stroke="#333" stroke-width="1.2" />
<text x="327.30" y="353.10" font-size="10" text-anchor="middle" font-weight="bold" font-style="normal" fill="#111" >0</text>
<line x1="361.40" y1="340.50" x2="361.40" y2="343.10" stroke="#333" stroke-width="1.2" />
<text x="361.40" y="353.10" font-size="10" text-anchor="middle" font-weight="bold" font-style="normal" fill="#111" >1</text>
<line x1="397.40" y1="340.50" x2="397.40" y2="343.10" stroke="#333" stroke-width="1.2" />
<text x="397.40" y="353.10" font-size="10" text-anchor="middle" font-weight="bold" font-style="normal" fill="#111" >2</text>
<line x1="432.80" y1="340.50" x2="432.80" y2="343.10" stroke="#333" stroke-width="1.2" />
<text x="432.80" y="353.10" font-size="10" text-anchor="middle" font-weight="bold" font-style="normal" fill="#111" >3</text>
<line x1="467.50" y1="340.50" x2="467.50" y2="343.10" stroke="#333" stroke-width="1.2" />
<text x="467.50" y="353.10" font-size="10" text-anchor="middle" font-weight="bold" font-style="normal" fill="#111" >4</text>
<line x1="502.40" y1="340.50" x2="502.40" y2="343.10" stroke="#333" stroke-width="1.2" />
<text x="502.40" y="353.10" font-size="10" text-anchor="middle" font-weight="bold" font-style="normal" fill="#111" >5</text>
<text x="417.70" y="367.50" font-size="11" text-anchor="middle" font-weight="bold" font-style="normal" fill="#111" >Days</text>
<rect x="416.90" y="230.40" width="93.70" height="45.50" fill="none" stroke="#262626" stroke-width="1.7" stroke-dasharray="5.2,4"/>
<text x="274.20" y="215.50" font-size="15.5" text-anchor="start" font-weight="bold" font-style="normal" fill="#111" >D</text>
<text transform="translate(286.00,274.90) rotate(-90)" font-size="9.1" font-weight="bold" text-anchor="middle" fill="#111">Platelet counts (x10<tspan font-size="7" dy="-3.3">9</tspan><tspan dy="3.3">/L)</tspan></text>
<text x="511.50" y="324.50" font-size="11.5" font-weight="bold" text-anchor="end" fill="#111">2.6x10<tspan font-size="7.8" dy="-4.6">10</tspan></text>
<text x="511.50" y="336.00" font-size="10" font-weight="bold" text-anchor="end" fill="#111"><tspan font-style="italic">AAV8-hAAT-mdtcs</tspan></text>
<circle cx="324.50" cy="252.00" r="2.35" fill="#000" stroke="none" stroke-width="0"/>
<circle cx="326.25" cy="253.75" r="2.35" fill="#000" stroke="none" stroke-width="0"/>
<circle cx="330.50" cy="252.50" r="2.35" fill="#000" stroke="none" stroke-width="0"/>
<circle cx="354.50" cy="263.75" r="2.35" fill="#000" stroke="none" stroke-width="0"/>
<circle cx="360.00" cy="261.25" r="2.35" fill="#000" stroke="none" stroke-width="0"/>
<circle cx="361.25" cy="269.50" r="2.35" fill="#000" stroke="none" stroke-width="0"/>
<circle cx="364.50" cy="265.50" r="2.35" fill="#000" stroke="none" stroke-width="0"/>
<circle cx="368.00" cy="263.25" r="2.35" fill="#000" stroke="none" stroke-width="0"/>
<circle cx="397.80" cy="247.10" r="2.35" fill="#000" stroke="none" stroke-width="0"/>
<circle cx="397.80" cy="266.50" r="2.35" fill="#000" stroke="none" stroke-width="0"/>
<circle cx="397.80" cy="282.20" r="2.35" fill="#000" stroke="none" stroke-width="0"/>
<circle cx="397.80" cy="305.60" r="2.35" fill="#000" stroke="none" stroke-width="0"/>
<line x1="320.00" y1="252.75" x2="336.25" y2="252.75" stroke="#000" stroke-width="1.3" />
<line x1="353.00" y1="264.50" x2="370.00" y2="264.50" stroke="#000" stroke-width="1.3" />
<line x1="390.80" y1="275.40" x2="406.90" y2="275.40" stroke="#000" stroke-width="1.3" />
<rect x="38.20" y="385.80" width="207.70" height="126.40" fill="none" stroke="#2a2a2a" stroke-width="1.3"/>
<line x1="35.20" y1="512.20" x2="38.20" y2="512.20" stroke="#333" stroke-width="1.2" />
<text x="35.20" y="514.90" font-size="7.4" text-anchor="end" font-weight="bold" font-style="normal" fill="#111" >0</text>
<line x1="35.20" y1="489.26" x2="38.20" y2="489.26" stroke="#333" stroke-width="1.2" />
<text x="35.20" y="491.96" font-size="7.4" text-anchor="end" font-weight="bold" font-style="normal" fill="#111" >200</text>
<line x1="35.20" y1="466.32" x2="38.20" y2="466.32" stroke="#333" stroke-width="1.2" />
<text x="35.20" y="469.02" font-size="7.4" text-anchor="end" font-weight="bold" font-style="normal" fill="#111" >400</text>
<line x1="35.20" y1="443.38" x2="38.20" y2="443.38" stroke="#333" stroke-width="1.2" />
<text x="35.20" y="446.08" font-size="7.4" text-anchor="end" font-weight="bold" font-style="normal" fill="#111" >600</text>
<line x1="35.20" y1="420.44" x2="38.20" y2="420.44" stroke="#333" stroke-width="1.2" />
<text x="35.20" y="423.14" font-size="7.4" text-anchor="end" font-weight="bold" font-style="normal" fill="#111" >800</text>
<line x1="35.20" y1="397.50" x2="38.20" y2="397.50" stroke="#333" stroke-width="1.2" />
<text x="35.20" y="400.20" font-size="7.4" text-anchor="end" font-weight="bold" font-style="normal" fill="#111" >1000</text>
<line x1="50.80" y1="512.20" x2="50.80" y2="514.80" stroke="#333" stroke-width="1.2" />
<text x="50.80" y="524.80" font-size="10" text-anchor="middle" font-weight="bold" font-style="normal" fill="#111" >0</text>
<line x1="86.10" y1="512.20" x2="86.10" y2="514.80" stroke="#333" stroke-width="1.2" />
<text x="86.10" y="524.80" font-size="10" text-anchor="middle" font-weight="bold" font-style="normal" fill="#111" >1</text>
<line x1="122.70" y1="512.20" x2="122.70" y2="514.80" stroke="#333" stroke-width="1.2" />
<text x="122.70" y="524.80" font-size="10" text-anchor="middle" font-weight="bold" font-style="normal" fill="#111" >2</text>
<line x1="158.60" y1="512.20" x2="158.60" y2="514.80" stroke="#333" stroke-width="1.2" />
<text x="158.60" y="524.80" font-size="10" text-anchor="middle" font-weight="bold" font-style="normal" fill="#111" >3</text>
<line x1="193.90" y1="512.20" x2="193.90" y2="514.80" stroke="#333" stroke-width="1.2" />
<text x="193.90" y="524.80" font-size="10" text-anchor="middle" font-weight="bold" font-style="normal" fill="#111" >4</text>
<line x1="229.90" y1="512.20" x2="229.90" y2="514.80" stroke="#333" stroke-width="1.2" />
<text x="229.90" y="524.80" font-size="10" text-anchor="middle" font-weight="bold" font-style="normal" fill="#111" >5</text>
<text x="140.30" y="541.00" font-size="11" text-anchor="middle" font-weight="bold" font-style="normal" fill="#111" >Days</text>
<rect x="147.50" y="403.20" width="95.20" height="45.30" fill="none" stroke="#262626" stroke-width="1.7" stroke-dasharray="5.2,4"/>
<text x="0.30" y="392.00" font-size="15.5" text-anchor="start" font-weight="bold" font-style="normal" fill="#111" >E</text>
<text transform="translate(12.50,447.90) rotate(-90)" font-size="9.1" font-weight="bold" text-anchor="middle" fill="#111">Platelet counts (x10<tspan font-size="7" dy="-3.3">9</tspan><tspan dy="3.3">/L)</tspan></text>
<text x="240.50" y="496.80" font-size="11.5" font-weight="bold" text-anchor="end" fill="#111">2.6x10<tspan font-size="7.8" dy="-4.6">11</tspan></text>
<text x="241.20" y="507.00" font-size="10" font-weight="bold" text-anchor="end" fill="#111"><tspan font-style="italic">AAV8-hAAT-mdtcs</tspan></text>
<circle cx="48.00" cy="414.50" r="2.35" fill="#000" stroke="none" stroke-width="0"/>
<circle cx="52.00" cy="417.50" r="2.35" fill="#000" stroke="none" stroke-width="0"/>
<circle cx="47.00" cy="418.75" r="2.35" fill="#000" stroke="none" stroke-width="0"/>
<circle cx="47.50" cy="431.25" r="2.35" fill="#000" stroke="none" stroke-width="0"/>
<circle cx="52.50" cy="431.75" r="2.35" fill="#000" stroke="none" stroke-width="0"/>
<circle cx="86.25" cy="400.50" r="2.35" fill="#000" stroke="none" stroke-width="0"/>
<circle cx="89.50" cy="415.75" r="2.35" fill="#000" stroke="none" stroke-width="0"/>
<circle cx="85.75" cy="420.00" r="2.35" fill="#000" stroke="none" stroke-width="0"/>
<circle cx="90.75" cy="416.25" r="2.35" fill="#000" stroke="none" stroke-width="0"/>
<circle cx="88.00" cy="428.75" r="2.35" fill="#000" stroke="none" stroke-width="0"/>
<circle cx="122.00" cy="415.00" r="2.35" fill="#000" stroke="none" stroke-width="0"/>
<circle cx="123.00" cy="423.75" r="2.35" fill="#000" stroke="none" stroke-width="0"/>
<circle cx="126.25" cy="422.50" r="2.35" fill="#000" stroke="none" stroke-width="0"/>
<circle cx="121.25" cy="438.00" r="2.35" fill="#000" stroke="none" stroke-width="0"/>
<circle cx="121.25" cy="445.75" r="2.35" fill="#000" stroke="none" stroke-width="0"/>
<circle cx="159.60" cy="411.20" r="2.35" fill="#000" stroke="none" stroke-width="0"/>
<circle cx="159.60" cy="424.00" r="2.35" fill="#000" stroke="none" stroke-width="0"/>
<circle cx="156.10" cy="429.10" r="2.35" fill="#000" stroke="none" stroke-width="0"/>
<circle cx="161.90" cy="429.70" r="2.35" fill="#000" stroke="none" stroke-width="0"/>
<circle cx="192.00" cy="427.00" r="2.35" fill="#000" stroke="none" stroke-width="0"/>
<circle cx="195.00" cy="426.00" r="2.35" fill="#000" stroke="none" stroke-width="0"/>
<circle cx="194.00" cy="430.00" r="2.35" fill="#000" stroke="none" stroke-width="0"/>
<circle cx="190.00" cy="428.00" r="2.35" fill="#000" stroke="none" stroke-width="0"/>
<circle cx="230.60" cy="424.20" r="2.35" fill="#000" stroke="none" stroke-width="0"/>
<circle cx="231.00" cy="428.00" r="2.35" fill="#000" stroke="none" stroke-width="0"/>
<circle cx="232.00" cy="431.00" r="2.35" fill="#000" stroke="none" stroke-width="0"/>
<circle cx="229.00" cy="427.00" r="2.35" fill="#000" stroke="none" stroke-width="0"/>
<line x1="43.00" y1="422.50" x2="59.50" y2="422.50" stroke="#000" stroke-width="1.3" />
<line x1="76.25" y1="416.75" x2="93.00" y2="416.75" stroke="#000" stroke-width="1.3" />
<line x1="115.80" y1="429.60" x2="133.00" y2="429.60" stroke="#000" stroke-width="1.3" />
<line x1="151.20" y1="423.60" x2="167.70" y2="423.60" stroke="#000" stroke-width="1.3" />
<line x1="184.40" y1="429.10" x2="201.70" y2="429.10" stroke="#000" stroke-width="1.3" />
<line x1="222.50" y1="427.70" x2="239.20" y2="427.70" stroke="#000" stroke-width="1.3" />
<rect x="310.60" y="388.90" width="205.40" height="127.90" fill="none" stroke="#2a2a2a" stroke-width="1.3"/>
<line x1="307.60" y1="516.80" x2="310.60" y2="516.80" stroke="#333" stroke-width="1.2" />
<text x="307.60" y="519.50" font-size="7.4" text-anchor="end" font-weight="bold" font-style="normal" fill="#111" >0</text>
<line x1="307.60" y1="493.70" x2="310.60" y2="493.70" stroke="#333" stroke-width="1.2" />
<text x="307.60" y="496.40" font-size="7.4" text-anchor="end" font-weight="bold" font-style="normal" fill="#111" >200</text>
<line x1="307.60" y1="470.60" x2="310.60" y2="470.60" stroke="#333" stroke-width="1.2" />
<text x="307.60" y="473.30" font-size="7.4" text-anchor="end" font-weight="bold" font-style="normal" fill="#111" >400</text>
<line x1="307.60" y1="447.50" x2="310.60" y2="447.50" stroke="#333" stroke-width="1.2" />
<text x="307.60" y="450.20" font-size="7.4" text-anchor="end" font-weight="bold" font-style="normal" fill="#111" >600</text>
<line x1="307.60" y1="424.40" x2="310.60" y2="424.40" stroke="#333" stroke-width="1.2" />
<text x="307.60" y="427.10" font-size="7.4" text-anchor="end" font-weight="bold" font-style="normal" fill="#111" >800</text>
<line x1="307.60" y1="401.30" x2="310.60" y2="401.30" stroke="#333" stroke-width="1.2" />
<text x="307.60" y="404.00" font-size="7.4" text-anchor="end" font-weight="bold" font-style="normal" fill="#111" >1000</text>
<line x1="328.10" y1="516.80" x2="328.10" y2="519.40" stroke="#333" stroke-width="1.2" />
<text x="328.10" y="529.40" font-size="10" text-anchor="middle" font-weight="bold" font-style="normal" fill="#111" >0</text>
<line x1="363.40" y1="516.80" x2="363.40" y2="519.40" stroke="#333" stroke-width="1.2" />
<text x="363.40" y="529.40" font-size="10" text-anchor="middle" font-weight="bold" font-style="normal" fill="#111" >1</text>
<line x1="399.40" y1="516.80" x2="399.40" y2="519.40" stroke="#333" stroke-width="1.2" />
<text x="399.40" y="529.40" font-size="10" text-anchor="middle" font-weight="bold" font-style="normal" fill="#111" >2</text>
<line x1="435.00" y1="516.80" x2="435.00" y2="519.40" stroke="#333" stroke-width="1.2" />
<text x="435.00" y="529.40" font-size="10" text-anchor="middle" font-weight="bold" font-style="normal" fill="#111" >3</text>
<line x1="469.90" y1="516.80" x2="469.90" y2="519.40" stroke="#333" stroke-width="1.2" />
<text x="469.90" y="529.40" font-size="10" text-anchor="middle" font-weight="bold" font-style="normal" fill="#111" >4</text>
<line x1="505.60" y1="516.80" x2="505.60" y2="519.40" stroke="#333" stroke-width="1.2" />
<text x="505.60" y="529.40" font-size="10" text-anchor="middle" font-weight="bold" font-style="normal" fill="#111" >5</text>
<text x="417.70" y="544.50" font-size="11" text-anchor="middle" font-weight="bold" font-style="normal" fill="#111" >Days</text>
<rect x="418.20" y="406.90" width="94.30" height="44.70" fill="none" stroke="#262626" stroke-width="1.7" stroke-dasharray="5.2,4"/>
<text x="274.30" y="392.20" font-size="15.5" text-anchor="start" font-weight="bold" font-style="normal" fill="#111" >F</text>
<text transform="translate(286.00,449.90) rotate(-90)" font-size="9.1" font-weight="bold" text-anchor="middle" fill="#111">Platelet counts (x10<tspan font-size="7" dy="-3.3">9</tspan><tspan dy="3.3">/L)</tspan></text>
<text x="510.00" y="499.80" font-size="11.5" font-weight="bold" text-anchor="end" fill="#111">1.3x10<tspan font-size="7.8" dy="-4.6">12</tspan></text>
<text x="511.90" y="510.80" font-size="10" font-weight="bold" text-anchor="end" fill="#111"><tspan font-style="italic">AAV8-hAAT-mdtcs</tspan></text>
<circle cx="323.75" cy="416.25" r="2.35" fill="#000" stroke="none" stroke-width="0"/>
<circle cx="328.00" cy="416.75" r="2.35" fill="#000" stroke="none" stroke-width="0"/>
<circle cx="324.50" cy="432.50" r="2.35" fill="#000" stroke="none" stroke-width="0"/>
<circle cx="328.00" cy="435.00" r="2.35" fill="#000" stroke="none" stroke-width="0"/>
<circle cx="363.75" cy="416.75" r="2.35" fill="#000" stroke="none" stroke-width="0"/>
<circle cx="368.00" cy="416.25" r="2.35" fill="#000" stroke="none" stroke-width="0"/>
<circle cx="371.25" cy="418.75" r="2.35" fill="#000" stroke="none" stroke-width="0"/>
<circle cx="369.50" cy="428.75" r="2.35" fill="#000" stroke="none" stroke-width="0"/>
<circle cx="366.25" cy="435.75" r="2.35" fill="#000" stroke="none" stroke-width="0"/>
<circle cx="396.70" cy="416.30" r="2.35" fill="#000" stroke="none" stroke-width="0"/>
<circle cx="396.70" cy="425.70" r="2.35" fill="#000" stroke="none" stroke-width="0"/>
<circle cx="396.70" cy="439.50" r="2.35" fill="#000" stroke="none" stroke-width="0"/>
<circle cx="396.70" cy="442.20" r="2.35" fill="#000" stroke="none" stroke-width="0"/>
<circle cx="396.70" cy="444.90" r="2.35" fill="#000" stroke="none" stroke-width="0"/>
<circle cx="437.90" cy="429.80" r="2.35" fill="#000" stroke="none" stroke-width="0"/>
<circle cx="435.20" cy="442.20" r="2.35" fill="#000" stroke="none" stroke-width="0"/>
<circle cx="438.70" cy="444.00" r="2.35" fill="#000" stroke="none" stroke-width="0"/>
<circle cx="441.40" cy="440.50" r="2.35" fill="#000" stroke="none" stroke-width="0"/>
<circle cx="466.70" cy="427.10" r="2.35" fill="#000" stroke="none" stroke-width="0"/>
<circle cx="466.70" cy="432.50" r="2.35" fill="#000" stroke="none" stroke-width="0"/>
<circle cx="465.60" cy="436.00" r="2.35" fill="#000" stroke="none" stroke-width="0"/>
<circle cx="468.30" cy="434.00" r="2.35" fill="#000" stroke="none" stroke-width="0"/>
<circle cx="499.30" cy="425.70" r="2.35" fill="#000" stroke="none" stroke-width="0"/>
<circle cx="496.30" cy="431.40" r="2.35" fill="#000" stroke="none" stroke-width="0"/>
<circle cx="497.90" cy="434.60" r="2.35" fill="#000" stroke="none" stroke-width="0"/>
<circle cx="499.80" cy="431.10" r="2.35" fill="#000" stroke="none" stroke-width="0"/>
<line x1="320.00" y1="423.00" x2="336.25" y2="423.00" stroke="#000" stroke-width="1.3" />
<line x1="359.50" y1="423.00" x2="375.50" y2="423.00" stroke="#000" stroke-width="1.3" />
<line x1="390.80" y1="433.80" x2="407.50" y2="433.80" stroke="#000" stroke-width="1.3" />
<line x1="429.80" y1="439.50" x2="446.00" y2="439.50" stroke="#000" stroke-width="1.3" />
<line x1="458.60" y1="433.30" x2="474.80" y2="433.30" stroke="#000" stroke-width="1.3" />
<line x1="491.70" y1="430.60" x2="507.90" y2="430.60" stroke="#000" stroke-width="1.3" />
<line x1="69.00" y1="560.70" x2="69.00" y2="695.60" stroke="#111" stroke-width="1.8" />
<line x1="65.80" y1="695.60" x2="69.00" y2="695.60" stroke="#111" stroke-width="1.5" />
<text x="63.50" y="698.80" font-size="9" text-anchor="end" font-weight="bold" font-style="normal" fill="#111" >0</text>
<line x1="65.80" y1="668.82" x2="69.00" y2="668.82" stroke="#111" stroke-width="1.5" />
<text x="63.50" y="672.02" font-size="9" text-anchor="end" font-weight="bold" font-style="normal" fill="#111" >20</text>
<line x1="65.80" y1="642.04" x2="69.00" y2="642.04" stroke="#111" stroke-width="1.5" />
<text x="63.50" y="645.24" font-size="9" text-anchor="end" font-weight="bold" font-style="normal" fill="#111" >40</text>
<line x1="65.80" y1="615.26" x2="69.00" y2="615.26" stroke="#111" stroke-width="1.5" />
<text x="63.50" y="618.46" font-size="9" text-anchor="end" font-weight="bold" font-style="normal" fill="#111" >60</text>
<line x1="65.80" y1="588.48" x2="69.00" y2="588.48" stroke="#111" stroke-width="1.5" />
<text x="63.50" y="591.68" font-size="9" text-anchor="end" font-weight="bold" font-style="normal" fill="#111" >80</text>
<line x1="65.80" y1="561.70" x2="69.00" y2="561.70" stroke="#111" stroke-width="1.5" />
<text x="63.50" y="564.90" font-size="9" text-anchor="end" font-weight="bold" font-style="normal" fill="#111" >100</text>
<line x1="69.00" y1="695.60" x2="311.50" y2="695.60" stroke="#111" stroke-width="1.8" />
<line x1="69.50" y1="695.60" x2="69.50" y2="698.10" stroke="#111" stroke-width="1.4" />
<text x="69.50" y="707.00" font-size="8.4" text-anchor="middle" font-weight="bold" font-style="normal" fill="#111" >0</text>
<line x1="103.95" y1="695.60" x2="103.95" y2="698.10" stroke="#111" stroke-width="1.4" />
<text x="103.95" y="707.00" font-size="8.4" text-anchor="middle" font-weight="bold" font-style="normal" fill="#111" >1</text>
<line x1="138.40" y1="695.60" x2="138.40" y2="698.10" stroke="#111" stroke-width="1.4" />
<text x="138.40" y="707.00" font-size="8.4" text-anchor="middle" font-weight="bold" font-style="normal" fill="#111" >2</text>
<line x1="172.85" y1="695.60" x2="172.85" y2="698.10" stroke="#111" stroke-width="1.4" />
<text x="172.85" y="707.00" font-size="8.4" text-anchor="middle" font-weight="bold" font-style="normal" fill="#111" >3</text>
<line x1="207.30" y1="695.60" x2="207.30" y2="698.10" stroke="#111" stroke-width="1.4" />
<text x="207.30" y="707.00" font-size="8.4" text-anchor="middle" font-weight="bold" font-style="normal" fill="#111" >4</text>
<line x1="241.75" y1="695.60" x2="241.75" y2="698.10" stroke="#111" stroke-width="1.4" />
<text x="241.75" y="707.00" font-size="8.4" text-anchor="middle" font-weight="bold" font-style="normal" fill="#111" >5</text>
<line x1="276.20" y1="695.60" x2="276.20" y2="698.10" stroke="#111" stroke-width="1.4" />
<text x="276.20" y="707.00" font-size="8.4" text-anchor="middle" font-weight="bold" font-style="normal" fill="#111" >6</text>
<line x1="310.65" y1="695.60" x2="310.65" y2="698.10" stroke="#111" stroke-width="1.4" />
<text x="310.65" y="707.00" font-size="8.4" text-anchor="middle" font-weight="bold" font-style="normal" fill="#111" >7</text>
<text x="166.80" y="724.50" font-size="11.5" text-anchor="middle" font-weight="bold" font-style="normal" fill="#111" >Days</text>
<text transform="translate(42,606.5) rotate(-90)" font-size="9" font-weight="bold" text-anchor="middle" fill="#111">Survival rate (%)</text>
<text x="0.60" y="568.40" font-size="15.5" text-anchor="start" font-weight="bold" font-style="normal" fill="#111" >G</text>
<polyline points="69.50,561.70 172.85,561.70 172.85,588.48 310.65,588.48" fill="none" stroke="#5aa6de" stroke-width="1.6" stroke-linejoin="round" />
<polyline points="103.95,561.70 103.95,588.48 172.85,588.48 172.85,695.60" fill="none" stroke="#86d448" stroke-width="1.6" stroke-linejoin="round" />
<polygon points="138.40,585.48 141.60,590.58 135.20,590.58" fill="#86d448"/>
<line x1="103.95" y1="561.70" x2="103.95" y2="588.48" stroke="#7a68b4" stroke-width="1.5" />
<polyline points="103.95,588.48 103.95,615.26 172.85,615.26 172.85,695.60" fill="none" stroke="#7c5cc4" stroke-width="1.5" stroke-linejoin="round" stroke-dasharray="4.5,3"/>
<line x1="135.60" y1="612.46" x2="141.20" y2="618.06" stroke="#7c5cc4" stroke-width="1.1" />
<line x1="135.60" y1="618.06" x2="141.20" y2="612.46" stroke="#7c5cc4" stroke-width="1.1" />
<line x1="170.05" y1="692.80" x2="175.65" y2="698.40" stroke="#7c5cc4" stroke-width="1.1" />
<line x1="170.05" y1="698.40" x2="175.65" y2="692.80" stroke="#7c5cc4" stroke-width="1.1" />
<polygon points="172.85,691.90 176.25,697.34 169.45,697.34" fill="#86d448"/>
<polyline points="69.50,561.70 172.85,561.70 172.85,588.48 310.65,588.48" fill="none" stroke="#d81c1c" stroke-width="1.5" stroke-linejoin="round" stroke-dasharray="4,2.5" stroke-opacity="0.85"/>
<rect x="66.10" y="559.10" width="6.80" height="5.20" fill="#5f8c98" stroke="none" stroke-width="0" rx="2"/>
<rect x="100.55" y="559.10" width="6.80" height="5.20" fill="#5f8c98" stroke="none" stroke-width="0" rx="2"/>
<rect x="135.20" y="559.30" width="6.40" height="4.80" fill="#a02848" stroke="none" stroke-width="0" />
<circle cx="138.40" cy="561.70" r="2.2" fill="none" stroke="#7a7ab0" stroke-width="0.8"/>
<rect x="169.65" y="559.30" width="6.40" height="4.80" fill="#a02848" stroke="none" stroke-width="0" />
<circle cx="172.85" cy="561.70" r="2.2" fill="none" stroke="#7a7ab0" stroke-width="0.8"/>
<rect x="204.10" y="586.08" width="6.40" height="4.80" fill="#a02848" stroke="none" stroke-width="0" />
<circle cx="207.30" cy="588.48" r="2.2" fill="none" stroke="#7a7ab0" stroke-width="0.8"/>
<rect x="238.55" y="586.08" width="6.40" height="4.80" fill="#a02848" stroke="none" stroke-width="0" />
<circle cx="241.75" cy="588.48" r="2.2" fill="none" stroke="#7a7ab0" stroke-width="0.8"/>
<rect x="273.00" y="586.08" width="6.40" height="4.80" fill="#a02848" stroke="none" stroke-width="0" />
<circle cx="276.20" cy="588.48" r="2.2" fill="none" stroke="#7a7ab0" stroke-width="0.8"/>
<rect x="307.45" y="586.08" width="6.40" height="4.80" fill="#a02848" stroke="none" stroke-width="0" />
<circle cx="310.65" cy="588.48" r="2.2" fill="none" stroke="#7a7ab0" stroke-width="0.8"/>
<line x1="334.20" y1="610.70" x2="354.20" y2="610.70" stroke="#5aa6de" stroke-width="1.6" />
<circle cx="344.20" cy="610.70" r="2.6" fill="#fff" stroke="#5aa6de" stroke-width="1.2"/>
<line x1="334.20" y1="623.50" x2="354.20" y2="623.50" stroke="#d81c1c" stroke-width="1.6" />
<rect x="341.20" y="620.70" width="5.60" height="5.60" fill="#d81c1c" stroke="none" stroke-width="0" />
<line x1="334.20" y1="637.00" x2="354.20" y2="637.00" stroke="#86d448" stroke-width="1.6" />
<polygon points="344.20,634.40 347.20,638.82 341.20,638.82" fill="#86d448"/>
<line x1="334.20" y1="649.70" x2="338.20" y2="649.70" stroke="#7c5cc4" stroke-width="1.5" />
<line x1="350.20" y1="649.70" x2="354.20" y2="649.70" stroke="#7c5cc4" stroke-width="1.5" />
<line x1="341.40" y1="646.90" x2="347.00" y2="652.50" stroke="#7c5cc4" stroke-width="1.3" />
<line x1="341.40" y1="652.50" x2="347.00" y2="646.90" stroke="#7c5cc4" stroke-width="1.3" />
<text x="360.80" y="614.00" font-size="8.8" text-anchor="start" font-weight="bold" font-style="normal" fill="#111" >AAV8-hAAT-mdtcs</text>
<text x="443.3" y="614.70" font-size="11" font-weight="bold" fill="#111">1.3x10<tspan font-size="7.8" dy="-4.2">12</tspan></text>
<text x="360.80" y="626.80" font-size="8.8" text-anchor="start" font-weight="bold" font-style="normal" fill="#111" >AAV8-hAAT-mdtcs</text>
<text x="443.3" y="627.50" font-size="11" font-weight="bold" fill="#111">2.6x10<tspan font-size="7.8" dy="-4.2">11</tspan></text>
<text x="360.80" y="640.30" font-size="8.8" text-anchor="start" font-weight="bold" font-style="normal" fill="#111" >AAV8-hAAT-mdtcs</text>
<text x="443.3" y="641.00" font-size="11" font-weight="bold" fill="#111">2.6x10<tspan font-size="7.8" dy="-4.2">10</tspan></text>
<text x="360.80" y="653.00" font-size="8.8" text-anchor="start" font-weight="bold" font-style="normal" fill="#111" >AAV8-hAAT-lacZ</text>
<text x="443.3" y="653.70" font-size="11" font-weight="bold" fill="#111">1.3x10<tspan font-size="7.8" dy="-4.2">12</tspan></text>
<text x="179.30" y="689.00" font-size="13.1" text-anchor="start" font-weight="normal" font-style="italic" fill="#111" >p&lt;0.001</text>
</svg></body></html>
